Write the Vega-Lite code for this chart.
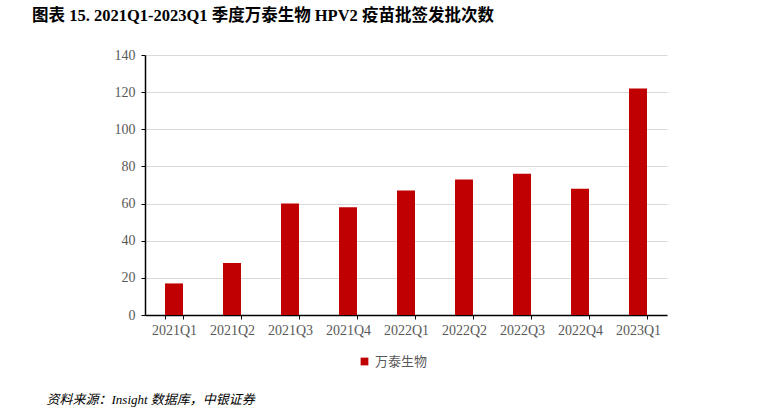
{
  "$schema": "https://vega.github.io/schema/vega-lite/v6.json",
  "width": 522,
  "height": 260,
  "autosize": {"type": "none"},
  "padding": {"left": 145, "top": 55, "right": 93, "bottom": 97},
  "background": "white",
  "title": {
    "text": "图表 15. 2021Q1-2023Q1 季度万泰生物 HPV2 疫苗批签发批次数",
    "anchor": "start",
    "frame": "group",
    "offset": 24,
    "dx": -113,
    "font": "Liberation Serif, Noto Sans CJK SC",
    "fontSize": 16.5,
    "fontWeight": "bold",
    "color": "#000000"
  },
  "data": {
    "values": [
      {"quarter": "2021Q1", "value": 17, "series": "万泰生物"},
      {"quarter": "2021Q2", "value": 28, "series": "万泰生物"},
      {"quarter": "2021Q3", "value": 60, "series": "万泰生物"},
      {"quarter": "2021Q4", "value": 58, "series": "万泰生物"},
      {"quarter": "2022Q1", "value": 67, "series": "万泰生物"},
      {"quarter": "2022Q2", "value": 73, "series": "万泰生物"},
      {"quarter": "2022Q3", "value": 76, "series": "万泰生物"},
      {"quarter": "2022Q4", "value": 68, "series": "万泰生物"},
      {"quarter": "2023Q1", "value": 122, "series": "万泰生物"}
    ]
  },
  "mark": {"type": "bar"},
  "encoding": {
    "x": {
      "field": "quarter",
      "type": "nominal",
      "sort": null,
      "scale": {"paddingInner": 0.69, "paddingOuter": 0.345},
      "axis": {
        "title": "资料来源：Insight 数据库，中银证券",
        "titleX": -99,
        "titleY": 84,
        "titleAlign": "left",
        "titleBaseline": "middle",
        "titleFont": "Liberation Serif, Noto Sans CJK SC",
        "titleFontSize": 13,
        "titleFontStyle": "italic",
        "titleFontWeight": "normal",
        "titleColor": "#000000",
        "labelAngle": 0,
        "tickBand": "extent",
        "domainColor": "#000000",
        "domainWidth": 1.5,
        "tickColor": "#000000",
        "tickSize": 4,
        "labelColor": "#595959",
        "labelFont": "Liberation Serif",
        "labelFontSize": 14,
        "labelPadding": 4
      }
    },
    "y": {
      "field": "value",
      "type": "quantitative",
      "scale": {"domain": [0, 140]},
      "axis": {
        "title": null,
        "values": [0, 20, 40, 60, 80, 100, 120, 140],
        "grid": true,
        "gridColor": "#D9D9D9",
        "gridWidth": 1,
        "domainColor": "#000000",
        "domainWidth": 1.5,
        "tickColor": "#000000",
        "tickSize": 4,
        "labelColor": "#595959",
        "labelFont": "Liberation Serif",
        "labelFontSize": 14,
        "labelPadding": 6
      }
    },
    "color": {
      "field": "series",
      "type": "nominal",
      "scale": {"range": ["#C00000"]},
      "legend": {
        "title": null,
        "orient": "none",
        "legendX": 213,
        "legendY": 300,
        "symbolType": "square",
        "symbolSize": 60,
        "labelFont": "Noto Sans CJK SC",
        "labelFontSize": 13,
        "labelColor": "#595959"
      }
    }
  },
  "config": {
    "view": {"stroke": null}
  }
}
